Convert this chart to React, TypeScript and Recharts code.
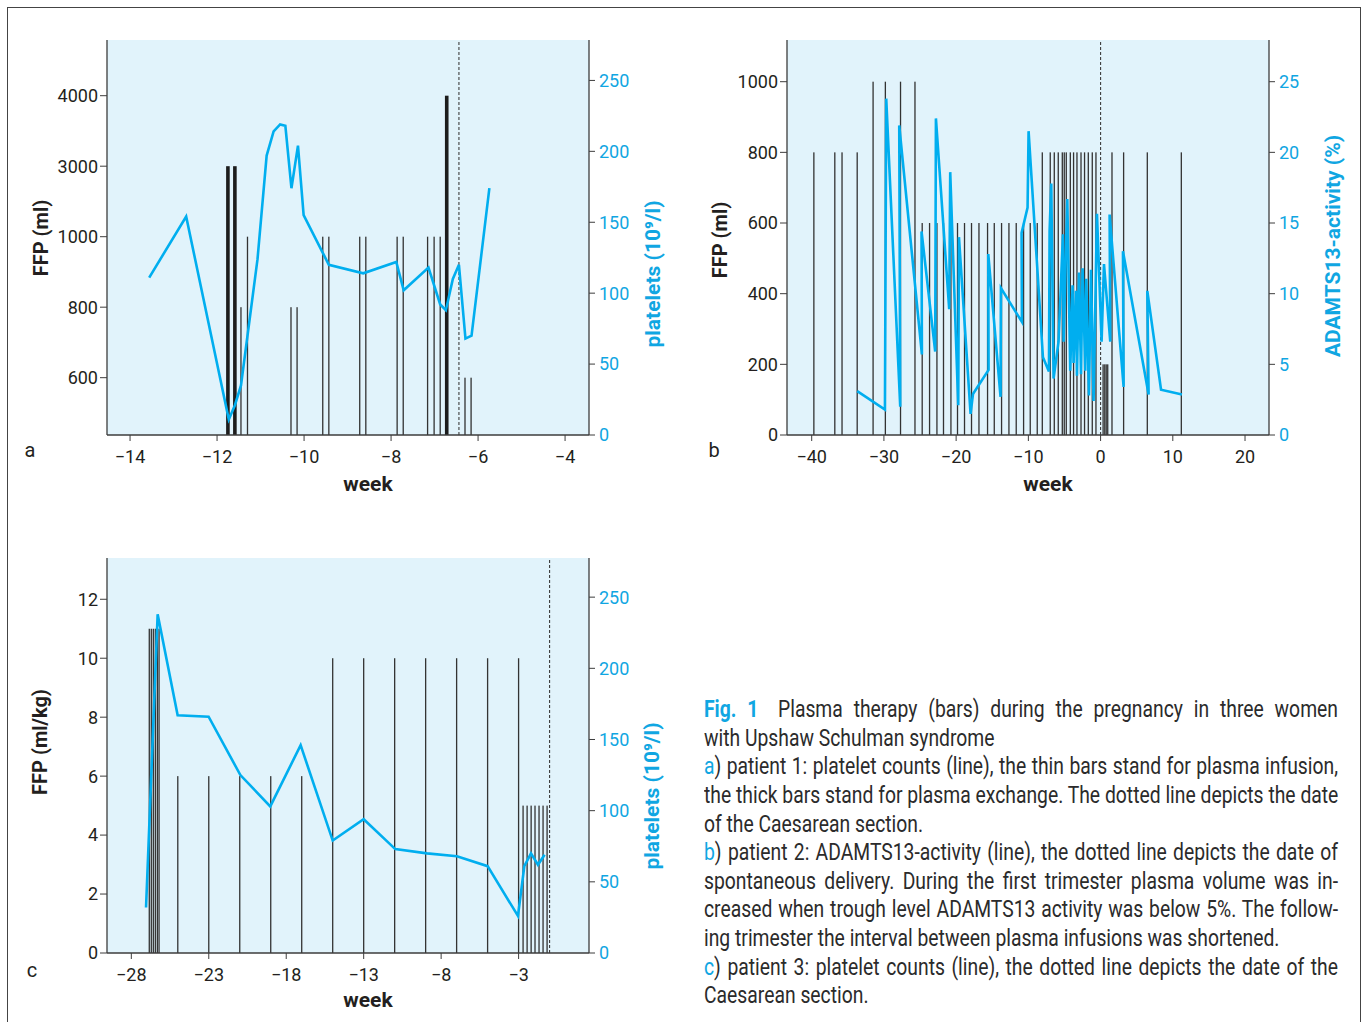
import React from 'react';
import { ComposedChart, Bar, Line, XAxis, YAxis, CartesianGrid, ReferenceLine } from 'recharts';

const BLUE = '#00aeef';
const BLUE_TEXT = '#10a6e2';
const INK = '#231f20';
const AXIS = '#3d3d3d';
const BG = '#e1f3fb';
const TICK_FONT = 'Roboto, "Noto Sans", sans-serif';
const CAPTION_FONT = 'Roboto, "Noto Sans", sans-serif';
// the caption face is condensed; Roboto squeezed horizontally stands in for it
const CAPTION_SQUEEZE = 0.84;
const CAPTION_WIDTH = 634;

// ---- patient 1 (panel a) ----
// the FFP axis is broken: the five levels sit at equal steps
const A_FFP_LEVELS = [600, 800, 1000, 3000, 4000];
const A_WEEK_TICKS = [-14, -12, -10, -8, -6, -4];
const A_PLT_TICKS = [0, 50, 100, 150, 200, 250];
const A_BAR_WEEKS = [-11.75, -11.59, -11.45, -11.3, -10.3, -10.16, -9.57, -9.43, -8.72, -8.58, -7.86, -7.72, -7.16, -7.01, -6.87, -6.72, -6.3, -6.16];
const A_BAR_FFP = [3000, 3000, 800, 1000, 800, 800, 1000, 1000, 1000, 1000, 1000, 1000, 1000, 1000, 1000, 4000, 600, 600];
const A_BAR_EXCHANGE = [true, true, false, false, false, false, false, false, false, false, false, false, false, false, false, true, false, false];
const A_PLT_WEEKS = [-13.56, -12.71, -11.73, -11.59, -11.45, -11.07, -10.86, -10.7, -10.55, -10.43, -10.29, -10.14, -10.01, -9.43, -8.64, -7.88, -7.71, -7.14, -6.87, -6.74, -6.58, -6.44, -6.29, -6.15, -5.74];
const A_PLT = [111, 154, 11, 21, 35, 124, 197, 214, 219, 218, 174, 204, 155, 120, 114, 122, 102, 118, 92, 88, 110, 120, 68, 70, 174];
const A_DELIVERY = -6.44;

// ---- patient 2 (panel b) ----
const B_WEEK_TICKS = [-40, -30, -20, -10, 0, 10, 20];
const B_FFP_TICKS = [0, 200, 400, 600, 800, 1000];
const B_ACT_TICKS = [0, 5, 10, 15, 20, 25];
const B_BAR_WEEKS = [
  -39.7, -36.8, -35.8, -33.7,
  -31.5, -29.8, -27.7, -25.7,
  -24.7, -23.68, -22.66, -21.75, -20.72, -19.81, -18.84, -17.87, -16.84, -15.65, -14.72, -13.71, -12.69, -11.68, -10.66, -9.74, -8.77,
  -8.07, -6.97, -6.41, -5.86, -5.3, -5.03, -4.75, -4.19, -3.74, -3.27, -2.71, -2.22, -1.7, -1.15, -0.64,
  0.35, 0.58, 0.78, 0.99,
  1.58, 3.19, 6.47, 11.18,
];
const B_BAR_FFP = [
  800, 800, 800, 800,
  1000, 1000, 1000, 1000,
  600, 600, 600, 600, 600, 600, 600, 600, 600, 600, 600, 600, 600, 600, 600, 600, 600,
  800, 800, 800, 800, 800, 800, 800, 800, 800, 800, 800, 800, 800, 800, 800,
  200, 200, 200, 200,
  800, 800, 800, 800,
];
const B_ACT_WEEKS = [
  -33.7, -29.86, -29.68, -27.74, -27.88, -24.74, -24.79, -22.9, -22.8, -20.96, -20.82, -19.71, -19.61, -18.0, -17.67,
  -15.51, -15.55, -13.85, -13.8, -10.89, -10.94, -10.11, -9.97, -7.98, -7.15, -7.06, -6.83, -6.51,
  -5.82, -5.21, -5.12, -4.61, -4.2, -3.88, -3.74, -3.41, -3.27, -2.99, -2.71, -2.49, -2.12, -1.98, -1.61, -1.33, -0.97, -0.5,
  0.14, 0.47, 1.34, 1.25, 3.19, 3.1, 6.65, 6.47, 8.37, 11.27,
];
const B_ACT = [
  3.1, 1.8, 23.8, 2.0, 21.9, 5.7, 14.4, 5.9, 22.4, 8.9, 18.6, 2.1, 14.0, 1.5, 2.9,
  4.6, 12.8, 2.7, 10.4, 8.0, 14.3, 16.1, 21.5, 5.5, 4.5, 14.4, 17.8, 4.0,
  6.6, 14.2, 6.6, 16.7, 4.55, 10.6, 5.1, 10.2, 4.2, 11.5, 4.3, 11.8, 4.55, 11.05, 2.8, 11.7, 2.4, 15.65,
  6.6, 12.1, 6.6, 15.6, 3.4, 13.0, 2.86, 10.2, 3.2, 2.86,
];
const B_DELIVERY = 0;

// ---- patient 3 (panel c) ----
const C_WEEK_TICKS = [-28, -23, -18, -13, -8, -3];
const C_FFP_TICKS = [0, 2, 4, 6, 8, 10, 12];
const C_PLT_TICKS = [0, 50, 100, 150, 200, 250];
const C_BAR_WEEKS = [
  -26.84, -26.71, -26.58, -26.45, -26.32, -26.21,
  -25, -23, -21, -19, -17,
  -15, -13, -11, -9, -7, -5, -3,
  -2.71, -2.45, -2.19, -1.94, -1.68, -1.42, -1.16,
];
const C_BAR_FFP = [
  11, 11, 11, 11, 11, 11,
  6, 6, 6, 6, 6,
  10, 10, 10, 10, 10, 10, 10,
  5, 5, 5, 5, 5, 5, 5,
];
const C_PLT_WEEKS = [-27.05, -26.3, -25.01, -23.01, -20.96, -19.03, -17.07, -15.0, -13.0, -10.96, -8.91, -6.98, -5.0, -3.04, -2.63, -2.2, -1.75, -1.32];
const C_PLT = [32, 238, 167, 166, 125, 103, 146, 79, 94, 73, 70, 68, 61, 26, 61, 70, 62, 69];
const C_DELIVERY = -1.0;

const CAPTION = [
  { head: 'Fig. 1', text: '\u2003Plasma therapy (bars) during the pregnancy in three women', justify: true, bold: true },
  { text: 'with Upshaw Schulman syndrome' },
  { head: 'a', text: ') patient 1: platelet counts (line), the thin bars stand for plasma infusion,', justify: true },
  { text: 'the thick bars stand for plasma exchange. The dotted line depicts the date', justify: true },
  { text: 'of the Caesarean section.' },
  { head: 'b', text: ') patient 2: ADAMTS13-activity (line), the dotted line depicts the date of', justify: true },
  { text: 'spontaneous delivery. During the first trimester plasma volume was in-', justify: true },
  { text: 'creased when trough level ADAMTS13 activity was below 5%. The follow-', justify: true },
  { text: 'ing trimester the interval between plasma infusions was shortened.' },
  { head: 'c', text: ') patient 3: platelet counts (line), the dotted line depicts the date of the', justify: true },
  { text: 'Caesarean section.' },
];

const minus = (v: number) => (v < 0 ? '\u2212' + Math.abs(v) : String(v));

const Stick = (p: any) => {
  const thick = p.payload && p.payload.thick;
  const w = thick ? 3.6 : 1.3;
  const cx = p.x + p.width / 2;
  return <rect x={cx - w / 2} y={p.y} width={w} height={p.height} fill={thick ? '#1c1c1c' : '#333333'} />;
};

interface PanelProps {
  left: number;
  top: number;
  width: number;
  rightWidth: number;
  bars: any[];
  line: any[];
  xDomain: [number, number];
  xTicks: number[];
  lDomain: [number, number];
  lTicks: number[];
  lFormat?: (v: number) => string;
  rDomain: [number, number];
  rTicks: number[];
  delivery: number;
}

const Panel: React.FC<PanelProps> = (p) => {
  const tick = { fill: INK, fontSize: 18, fontFamily: TICK_FONT };
  return (
    <div style={{ position: 'absolute', left: p.left, top: p.top }}>
      <ComposedChart width={p.width} height={510} data={p.bars} margin={{ top: 40, right: 0, bottom: 0, left: 0 }}>
        <CartesianGrid horizontal={false} vertical={false} fill={BG} />
        <XAxis
          dataKey="w"
          type="number"
          domain={p.xDomain}
          ticks={p.xTicks}
          allowDataOverflow
          interval={0}
          height={75}
          tickSize={6}
          tickMargin={9}
          tickFormatter={minus}
          axisLine={{ stroke: AXIS, strokeWidth: 1.3 }}
          tickLine={{ stroke: AXIS }}
          tick={tick}
        />
        <YAxis
          yAxisId="l"
          type="number"
          domain={p.lDomain}
          ticks={p.lTicks}
          allowDataOverflow
          interval={0}
          width={107}
          tickSize={7}
          tickMargin={2}
          tickFormatter={p.lFormat}
          axisLine={{ stroke: AXIS, strokeWidth: 1.3 }}
          tickLine={{ stroke: AXIS }}
          tick={tick}
        />
        <YAxis
          yAxisId="r"
          orientation="right"
          type="number"
          domain={p.rDomain}
          ticks={p.rTicks}
          allowDataOverflow
          interval={0}
          width={p.rightWidth}
          tickSize={6}
          tickMargin={4}
          axisLine={{ stroke: AXIS, strokeWidth: 1.3 }}
          tickLine={{ stroke: AXIS }}
          tick={{ ...tick, fill: BLUE_TEXT }}
        />
        <Bar yAxisId="l" dataKey="v" barSize={2} shape={Stick} isAnimationActive={false} />
        <ReferenceLine yAxisId="l" x={p.delivery} stroke={AXIS} strokeWidth={1.1} strokeDasharray="3 2" />
        <Line
          yAxisId="r"
          data={p.line}
          dataKey="v"
          type="linear"
          stroke={BLUE}
          strokeWidth={2.6}
          dot={false}
          activeDot={false}
          isAnimationActive={false}
        />
      </ComposedChart>
    </div>
  );
};

const Txt: React.FC<{ x: number; y: number; rot?: boolean; bold?: boolean; size?: number; color?: string; children: React.ReactNode }> = ({ x, y, rot, bold, size, color, children }) => (
  <div
    style={{
      position: 'absolute',
      left: x,
      top: y,
      transform: `translate(-50%, -50%)${rot ? ' rotate(-90deg)' : ''}`,
      whiteSpace: 'nowrap',
      fontFamily: TICK_FONT,
      fontWeight: bold ? 700 : 400,
      fontSize: size || 20,
      color: color || INK,
      lineHeight: 1,
    }}
  >
    {children}
  </div>
);

export default function App() {
  const aBars = A_BAR_WEEKS.map((w, i) => ({ w, v: A_FFP_LEVELS.indexOf(A_BAR_FFP[i]) + 1, thick: A_BAR_EXCHANGE[i] }));
  const aLine = A_PLT_WEEKS.map((w, i) => ({ w, v: A_PLT[i] }));
  const bBars = B_BAR_WEEKS.map((w, i) => ({ w, v: B_BAR_FFP[i] }));
  const bLine = B_ACT_WEEKS.map((w, i) => ({ w, v: B_ACT[i] }));
  const cBars = C_BAR_WEEKS.map((w, i) => ({ w, v: C_BAR_FFP[i] }));
  const cLine = C_PLT_WEEKS.map((w, i) => ({ w, v: C_PLT[i] }));

  return (
    <div style={{ position: 'absolute', left: 0, top: 0, width: 1363, height: 1022, overflow: 'hidden', background: '#fff' }}>
      <style>{'body{overflow:hidden}'}</style>
      <div
        style={{
          position: 'absolute',
          left: 7,
          top: 7,
          width: 1352,
          height: 1040,
          borderTop: '1.5px solid #444',
          borderLeft: '1.5px solid #444',
          borderRight: '1.5px solid #444',
        }}
      />

      <Panel
        left={0}
        top={0}
        width={700}
        rightWidth={111}
        bars={aBars}
        line={aLine}
        xDomain={[-14.53, -3.45]}
        xTicks={A_WEEK_TICKS}
        lDomain={[0.187, 5.79]}
        lTicks={[1, 2, 3, 4, 5]}
        lFormat={(v) => String(A_FFP_LEVELS[v - 1])}
        rDomain={[0, 278.5]}
        rTicks={A_PLT_TICKS}
        delivery={A_DELIVERY}
      />
      <Panel
        left={680}
        top={0}
        width={683}
        rightWidth={94}
        bars={bBars}
        line={bLine}
        xDomain={[-43.42, 23.32]}
        xTicks={B_WEEK_TICKS}
        lDomain={[0, 1118]}
        lTicks={B_FFP_TICKS}
        rDomain={[0, 27.95]}
        rTicks={B_ACT_TICKS}
        delivery={B_DELIVERY}
      />
      <Panel
        left={0}
        top={518}
        width={700}
        rightWidth={111}
        bars={cBars}
        line={cLine}
        xDomain={[-29.57, 1.545]}
        xTicks={C_WEEK_TICKS}
        lDomain={[0, 13.4]}
        lTicks={C_FFP_TICKS}
        rDomain={[0, 277.5]}
        rTicks={C_PLT_TICKS}
        delivery={C_DELIVERY}
      />

      <Txt x={41} y={238} rot bold>FFP (ml)</Txt>
      <Txt x={653} y={274} rot bold size={21} color={BLUE_TEXT}>platelets (10⁹/l)</Txt>
      <Txt x={368} y={484} bold size={21}>week</Txt>
      <Txt x={30} y={450}>a</Txt>

      <Txt x={720} y={240} rot bold>FFP (ml)</Txt>
      <Txt x={1333} y={246} rot bold size={21} color={BLUE_TEXT}>ADAMTS13-activity (%)</Txt>
      <Txt x={1048} y={484} bold size={21}>week</Txt>
      <Txt x={714} y={450}>b</Txt>

      <Txt x={40} y={742} rot bold>FFP (ml/kg)</Txt>
      <Txt x={652} y={796} rot bold size={21} color={BLUE_TEXT}>platelets (10⁹/l)</Txt>
      <Txt x={368} y={1000} bold size={21}>week</Txt>
      <Txt x={32} y={970}>c</Txt>

      <div
        style={{
          position: 'absolute',
          left: 704,
          top: 696,
          width: CAPTION_WIDTH / CAPTION_SQUEEZE,
          transform: `scaleX(${CAPTION_SQUEEZE})`,
          transformOrigin: '0 0',
          fontFamily: CAPTION_FONT,
          fontSize: 23,
          color: '#2b2b2b',
        }}
      >
        {CAPTION.map((l, i) => (
          <div
            key={i}
            style={{
              height: 28.65,
              lineHeight: '28.65px',
              whiteSpace: 'nowrap',
              textAlign: l.justify ? 'justify' : 'left',
              textAlignLast: l.justify ? 'justify' : 'left',
            }}
          >
            {l.head && <span style={{ color: BLUE_TEXT, fontWeight: l.bold ? 700 : 400 }}>{l.head}</span>}
            {l.text}
          </div>
        ))}
      </div>
    </div>
  );
}
